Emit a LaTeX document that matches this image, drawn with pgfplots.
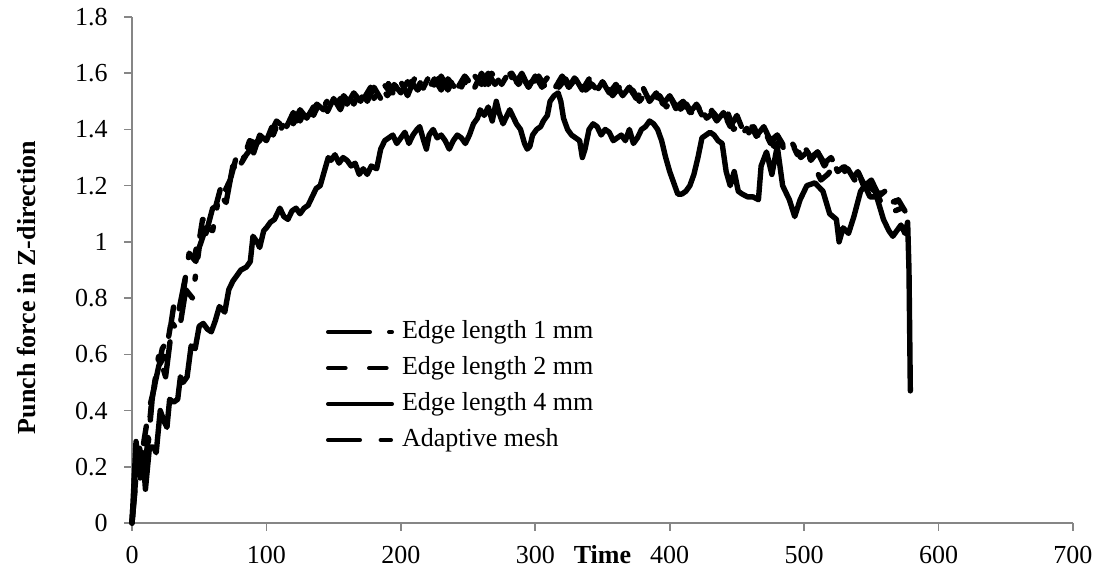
\documentclass[border=0pt]{standalone}
\usepackage{fontspec}
\setmainfont{Liberation Serif}
\usepackage{pgfplots}
\pgfplotsset{compat=1.18}
\definecolor{axgray}{RGB}{134,134,134}
\begin{document}
\fontsize{13pt}{15.5pt}\selectfont
\begin{tikzpicture}
\useasboundingbox (0,0) rectangle (549.5pt,285.5pt);
\begin{axis}[
  at={(66pt,24pt)}, anchor=south west,
  scale only axis, width=470.5pt, height=253pt,
  xmin=0, xmax=700, ymin=0, ymax=1.8,
  clip=false,
  xtick={0,100,200,300,400,500,600,700},
  ytick={0,0.2,0.4,0.6,0.8,1,1.2,1.4,1.6,1.8},
  axis x line*=bottom, axis y line*=left,
  axis line style={-, draw=axgray, line width=1pt},
  tick style={draw=axgray, line width=0.8pt},
  major tick length=3.8pt, tick align=outside,
  /pgf/number format/assume math mode=true,
  /pgf/number format/fixed, /pgf/number format/precision=1,
  xticklabel style={anchor=base, yshift=-16.7pt, inner sep=0pt},
  yticklabel style={anchor=east, xshift=-8.2pt, inner sep=0pt},
  xlabel={\textbf{Time}},
  xlabel style={at={(axis description cs:0.5,0)}, anchor=base, yshift=-20.5pt, inner sep=0pt},
  ylabel={\textbf{Punch force in Z-direction}},
  ylabel style={at={(axis description cs:-0.1116,0.465)}, anchor=center, inner sep=0pt},
  legend style={draw=none, fill=none, inner sep=0pt, outer sep=0pt,
    at={(axis description cs:0.2062,0.413)}, anchor=north west,
    row sep=0pt, column sep=4pt,
    nodes={inner sep=0pt, text height=12pt, text depth=6pt}},
  legend cell align=left,
  legend image code/.code={\draw[#1, line width=2pt] (0pt,0pt) -- (32pt,0pt);},
  every axis plot/.append style={black, line width=2.7pt, line join=round, line cap=round},
]
\addplot[dash pattern=on 21pt off 9.5pt on 1.5pt off 9.5pt] coordinates {
(0,0) (5,0.28) (10,0.17) (15,0.44) (20,0.60) (25,0.52) (30,0.71) (35,0.68) (40,0.83) (45,0.80) (50,0.98) (55,1.05) (60,1.04) (65,1.17) (70,1.14) (75,1.27) (80,1.25) (85,1.33) (90,1.31) (95,1.38) (100,1.36) (105,1.42) (110,1.39) (115,1.45) (120,1.42) (125,1.47) (130,1.44) (135,1.48) (140,1.46) (145,1.50) (150,1.47) (155,1.51) (160,1.49) (165,1.53) (170,1.50) (175,1.54) (180,1.51) (185,1.55) (190,1.52) (195,1.56) (200,1.53) (205,1.57) (210,1.53) (215,1.57) (220,1.54) (225,1.58) (230,1.54) (235,1.58) (240,1.55) (245,1.59) (250,1.55) (255,1.59) (260,1.56) (265,1.60) (270,1.56) (275,1.59) (280,1.61) (285,1.56) (290,1.59) (295,1.55) (300,1.59) (305,1.55) (310,1.58) (315,1.55) (320,1.59) (325,1.55) (330,1.58) (335,1.54) (340,1.57) (345,1.54) (350,1.57) (355,1.53) (360,1.56) (365,1.52) (370,1.55) (375,1.51) (380,1.54) (385,1.50) (390,1.53) (395,1.49) (400,1.52) (405,1.48) (410,1.50) (415,1.46) (420,1.49) (425,1.45) (430,1.47) (435,1.43) (440,1.46) (445,1.42) (450,1.44) (455,1.39) (460,1.42) (465,1.38) (470,1.41) (475,1.36) (480,1.38) (485,1.34) (490,1.36) (495,1.32) (500,1.34) (505,1.30) (510,1.32) (515,1.28) (520,1.30) (525,1.26) (530,1.27) (535,1.23) (540,1.25) (545,1.20) (550,1.22) (555,1.17) (560,1.18) (565,1.14) (570,1.15) (575,1.12)
};
\addlegendentry{Edge length 1 mm}
\addplot[dash pattern=on 8.8pt off 11.7pt] coordinates {
(0,0) (2.5,0.22) (7.5,0.25) (12.5,0.40) (17.5,0.50) (22.5,0.62) (27.5,0.66) (32.5,0.82) (37.5,0.80) (42.5,0.96) (47.5,0.93) (52.5,1.08) (57.5,1.07) (62.5,1.13) (67.5,1.22) (72.5,1.21) (77.5,1.30) (82.5,1.29) (87.5,1.36) (92.5,1.35) (97.5,1.40) (102.5,1.38) (107.5,1.43) (112.5,1.41) (117.5,1.46) (122.5,1.43) (127.5,1.48) (132.5,1.45) (137.5,1.49) (142.5,1.47) (147.5,1.51) (152.5,1.48) (157.5,1.52) (162.5,1.49) (167.5,1.53) (172.5,1.51) (177.5,1.55) (182.5,1.52) (187.5,1.56) (192.5,1.53) (197.5,1.56) (202.5,1.53) (207.5,1.57) (212.5,1.54) (217.5,1.57) (222.5,1.54) (227.5,1.58) (232.5,1.55) (237.5,1.58) (242.5,1.55) (247.5,1.59) (252.5,1.56) (257.5,1.59) (262.5,1.56) (267.5,1.60) (272.5,1.57) (277.5,1.59) (282.5,1.60) (287.5,1.56) (292.5,1.59) (297.5,1.56) (302.5,1.59) (307.5,1.55) (312.5,1.58) (317.5,1.55) (322.5,1.58) (327.5,1.54) (332.5,1.57) (337.5,1.54) (342.5,1.56) (347.5,1.53) (352.5,1.56) (357.5,1.52) (362.5,1.55) (367.5,1.51) (372.5,1.54) (377.5,1.50) (382.5,1.53) (387.5,1.50) (392.5,1.52) (397.5,1.48) (402.5,1.51) (407.5,1.47) (412.5,1.49) (417.5,1.45) (422.5,1.48) (427.5,1.44) (432.5,1.46) (437.5,1.43) (442.5,1.47) (447.5,1.40) (452.5,1.42) (457.5,1.38) (462.5,1.41) (467.5,1.36) (472.5,1.38) (477.5,1.34) (482.5,1.36) (487.5,1.32) (492.5,1.34) (497.5,1.30) (502.5,1.32) (507.5,1.27) (512.5,1.22) (517.5,1.24) (522.5,1.27) (527.5,1.24) (532.5,1.26) (537.5,1.22) (542.5,1.24) (547.5,1.20) (552.5,1.18) (557.5,1.14) (562.5,1.15) (567.5,1.11) (572.5,1.12)
};
\addlegendentry{Edge length 2 mm}
\addplot[solid] coordinates {
(0,0) (3,0.29) (6,0.16) (8,0.25) (10,0.12) (13,0.27) (16,0.27) (18,0.25) (21,0.40) (24,0.36) (26,0.34) (28,0.44) (31,0.43) (34,0.44) (36,0.52) (38,0.50) (41,0.52) (44,0.63) (47,0.62) (50,0.70) (53,0.71) (56,0.69) (59,0.68) (62,0.72) (65,0.77) (69,0.75) (72,0.83) (75,0.86) (78,0.88) (81,0.90) (85,0.91) (88,0.93) (90,1.02) (93,1.00) (95,0.98) (98,1.04) (100,1.05) (103,1.07) (106,1.08) (110,1.12) (113,1.09) (116,1.08) (119,1.11) (122,1.12) (125,1.10) (128,1.12) (131,1.13) (134,1.16) (137,1.19) (140,1.20) (143,1.25) (146,1.30) (148,1.29) (151,1.31) (154,1.28) (157,1.30) (160,1.29) (163,1.27) (166,1.28) (169,1.24) (172,1.26) (175,1.24) (178,1.27) (182,1.26) (185,1.33) (188,1.36) (191,1.37) (194,1.38) (197,1.35) (200,1.37) (203,1.39) (206,1.35) (209,1.38) (212,1.40) (214,1.41) (217,1.36) (219,1.33) (221,1.38) (224,1.40) (227,1.37) (230,1.38) (233,1.36) (236,1.33) (239,1.36) (242,1.38) (245,1.37) (248,1.35) (251,1.38) (254,1.42) (257,1.44) (259,1.47) (262,1.45) (265,1.48) (268,1.43) (271,1.50) (273,1.46) (276,1.42) (279,1.45) (281,1.47) (284,1.44) (286,1.42) (289,1.40) (292,1.35) (294,1.33) (296,1.34) (298,1.38) (301,1.40) (304,1.41) (306,1.43) (309,1.45) (311,1.50) (314,1.52) (317,1.53) (319,1.50) (321,1.44) (324,1.40) (327,1.38) (330,1.37) (333,1.36) (335,1.30) (337,1.33) (340,1.40) (343,1.42) (346,1.41) (349,1.38) (352,1.40) (355,1.39) (358,1.36) (361,1.37) (364,1.38) (367,1.36) (370,1.40) (373,1.35) (376,1.37) (379,1.40) (382,1.41) (385,1.43) (388,1.42) (391,1.40) (394,1.36) (397,1.30) (400,1.25) (403,1.21) (406,1.17) (409,1.17) (412,1.18) (415,1.20) (418,1.24) (421,1.30) (424,1.37) (427,1.38) (430,1.39) (433,1.38) (436,1.36) (439,1.35) (442,1.25) (445,1.20) (448,1.25) (451,1.18) (454,1.17) (458,1.16) (462,1.16) (466,1.15) (468,1.27) (472,1.32) (476,1.24) (480,1.34) (484,1.20) (489,1.15) (493,1.09) (497,1.15) (502,1.20) (508,1.21) (514,1.18) (519,1.10) (524,1.08) (526,1.00) (529,1.05) (533,1.03) (537,1.09) (542,1.18) (545,1.20) (549,1.16) (554,1.16) (559,1.08) (563,1.04) (566,1.02) (569,1.04) (572,1.06) (575,1.03) (577,1.07) (578,0.90) (579,0.47)
};
\addlegendentry{Edge length 4 mm}
\addplot[dash pattern=on 16pt off 10.3pt on 5.2pt off 10.3pt] coordinates {
(0,0) (5,0.26) (10,0.21) (15,0.45) (20,0.56) (25,0.60) (30,0.74) (35,0.76) (40,0.88) (45,0.91) (50,1.03) (55,1.03) (60,1.12) (65,1.13) (70,1.19) (75,1.24) (80,1.27) (85,1.31) (90,1.34) (95,1.36) (100,1.41) (105,1.38) (110,1.44) (115,1.41) (120,1.46) (125,1.43) (130,1.48) (135,1.45) (140,1.50) (145,1.46) (150,1.51) (155,1.47) (160,1.53) (165,1.49) (170,1.54) (175,1.50) (180,1.55) (185,1.51) (190,1.57) (195,1.52) (200,1.57) (205,1.52) (210,1.58) (215,1.53) (220,1.58) (225,1.54) (230,1.59) (235,1.54) (240,1.59) (245,1.55) (250,1.60) (255,1.55) (260,1.60) (265,1.56) (270,1.60) (275,1.56) (280,1.60) (285,1.56) (290,1.60) (295,1.55) (300,1.60) (305,1.56) (310,1.59) (315,1.55) (320,1.59) (325,1.55) (330,1.59) (335,1.54) (340,1.58) (345,1.53) (350,1.57) (355,1.53) (360,1.56) (365,1.52) (370,1.55) (375,1.51) (380,1.55) (385,1.50) (390,1.53) (395,1.49) (400,1.52) (405,1.47) (410,1.51) (415,1.46) (420,1.49) (425,1.44) (430,1.48) (435,1.43) (440,1.46) (445,1.41) (450,1.45) (455,1.39) (460,1.42) (465,1.37) (470,1.40) (475,1.35) (480,1.38) (485,1.33) (490,1.36) (495,1.31) (500,1.34) (505,1.29) (510,1.32) (515,1.27) (520,1.30) (525,1.25) (530,1.27) (535,1.22) (540,1.25) (545,1.19) (550,1.22) (555,1.16) (560,1.18) (565,1.13) (570,1.15) (575,1.11)
};
\addlegendentry{Adaptive mesh}
\end{axis}
\end{tikzpicture}
\end{document}
